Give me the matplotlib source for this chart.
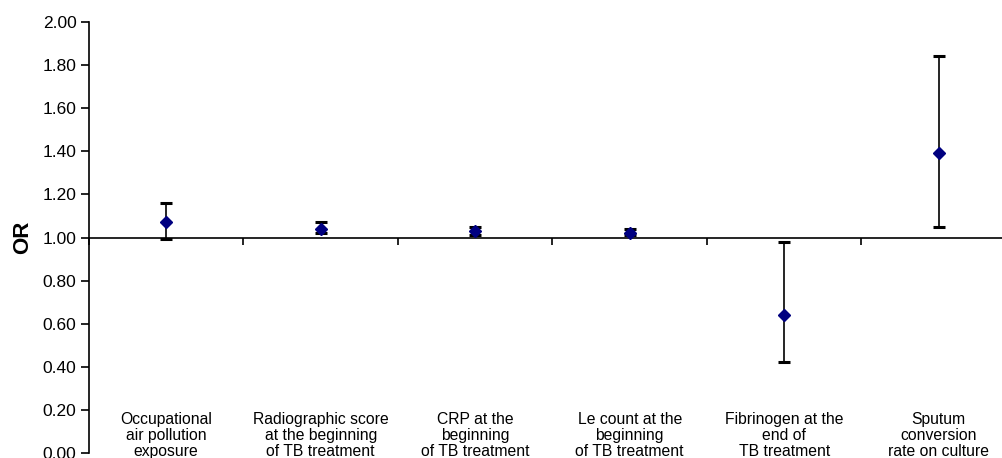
import numpy as np
import matplotlib
matplotlib.use("Agg")
import matplotlib.pyplot as plt

plt.rcParams["font.family"] = ["Liberation Sans", "DejaVu Sans"]

# ----------------------------- DATA -----------------------------
categories = [
    "Occupational\nair pollution\nexposure",
    "Radiographic score\nat the beginning\nof TB treatment",
    "CRP at the\nbeginning\nof TB treatment",
    "Le count at the\nbeginning\nof TB treatment",
    "Fibrinogen at the\nend of\nTB treatment",
    "Sputum\nconversion\nrate on culture",
]
odds_ratio = [1.07, 1.04, 1.03, 1.02, 0.64, 1.39]
ci_lower = [0.995, 1.02, 1.01, 1.01, 0.42, 1.05]
ci_upper = [1.16, 1.07, 1.05, 1.04, 0.98, 1.84]
y_ticks = [0.0, 0.2, 0.4, 0.6, 0.8, 1.0, 1.2, 1.4, 1.6, 1.8, 2.0]
# -----------------------------------------------------------------

fig = plt.figure(figsize=(10.03, 4.58), dpi=100)
# plot area runs a little past the right edge, as in the original
ax = fig.add_axes([89 / 1003, 5 / 458, 927 / 1003, 431 / 458])

x = np.arange(len(categories))
or_arr = np.array(odds_ratio)
yerr = [or_arr - np.array(ci_lower), np.array(ci_upper) - or_arr]

ax.errorbar(x, or_arr, yerr=yerr, fmt="none", ecolor="black",
            elinewidth=1.2, capsize=4, capthick=2.2, zorder=2)
ax.plot(x, or_arr, linestyle="none", marker="D", markersize=6,
        color="#000080", zorder=3)

ax.set_xlim(-0.5, len(categories) - 0.5)
ax.set_ylim(0, 2.0)
ax.set_yticks(y_ticks)
ax.set_yticklabels([f"{v:.2f}" for v in y_ticks], fontsize=12.5)
ax.set_ylabel("OR", fontsize=16, fontweight="bold", labelpad=7)

# x axis crosses at OR = 1, ticks between categories
ax.spines["bottom"].set_position(("data", 1.0))
ax.spines["top"].set_visible(False)
ax.spines["right"].set_visible(False)
ax.spines["left"].set_linewidth(1.2)
ax.spines["bottom"].set_linewidth(1.2)
ax.set_xticks(np.arange(len(categories) + 1) - 0.5)
ax.set_xticklabels([])
ax.tick_params(axis="x", direction="out", length=5, width=1.2)
ax.tick_params(axis="y", direction="out", length=6, width=1.2, pad=3)

for xi, label in zip(x, categories):
    ax.text(xi, 0.19, label, ha="center", va="top", fontsize=11.3,
            linespacing=1.08, clip_on=False)

fig.savefig("out.png", dpi=100)
